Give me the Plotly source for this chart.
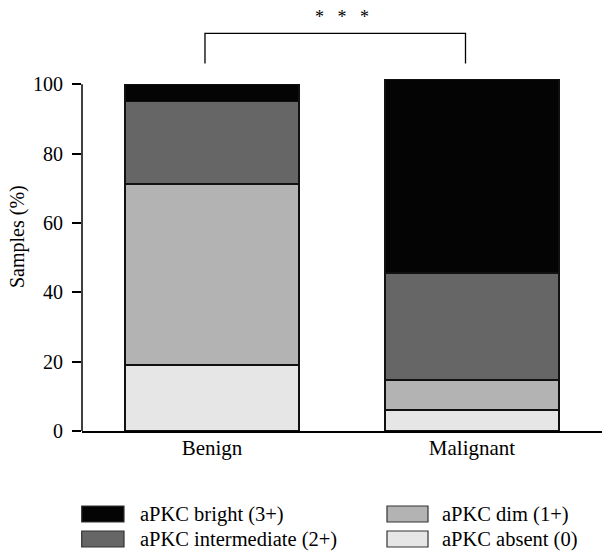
import plotly.graph_objects as go

categories = ["Benign", "Malignant"]
series_names = ["aPKC absent (0)", "aPKC dim (1+)", "aPKC intermediate (2+)", "aPKC bright (3+)"]
absent = [19.0, 6.1]
dim = [52.3, 8.6]
intermediate = [23.8, 30.8]
bright = [4.9, 55.9]
series_values = [absent, dim, intermediate, bright]
colors = ["#e6e6e6", "#b3b3b3", "#666666", "#040404"]
y_ticks = [0, 20, 40, 60, 80, 100]
significance = "*   *   *"

FONT = "Liberation Serif"
W, H = 602, 555
ML, MR, MT, MB = 82, 0, 0, 124
PW, PH = W - ML - MR, H - MT - MB

def px2paper_x(px):
    return (px - ML) / PW

def px2paper_y(py):
    return (H - MB - py) / PH

fig = go.Figure()
for name, vals, col in zip(series_names, series_values, colors):
    fig.add_trace(go.Bar(
        x=categories, y=vals, name=name, width=0.668,
        marker=dict(color=col, line=dict(color="#111111", width=1.5)),
        showlegend=False, hoverinfo="skip",
    ))

shapes = []
# y axis line from 0 to 100
shapes.append(dict(type="line", xref="paper", yref="y", x0=0, x1=0, y0=0, y1=100,
                   line=dict(color="black", width=1.5)))
# significance bracket
bl, br = 0 - 0.027, 1 - 0.025
shapes.append(dict(type="path", xref="x", yref="y",
                   path=f"M {bl},106 L {bl},114.7 L {br},114.7 L {br},106",
                   line=dict(color="black", width=1.3)))

annotations = [
    dict(text=significance, x=0.5, y=119.5, xref="x", yref="y", showarrow=False,
         font=dict(family=FONT, size=18, color="black")),
    dict(text="Samples (%)", x=px2paper_x(17), y=px2paper_y(237), xref="paper", yref="paper",
         xanchor="center", yanchor="middle",
         showarrow=False, textangle=-90, font=dict(family=FONT, size=20, color="black")),
]

# manual legend (column-major order: bright, intermediate | dim, absent)
legend_order = [3, 2, 1, 0]
cols_px = [(81.7, 124, 138), (387, 428, 440)]
rows_px = [(506, 522), (531, 547)]
for k, si in enumerate(legend_order):
    c, r = divmod(k, 2)
    x0, x1, tx = cols_px[c]
    y0, y1 = rows_px[r]
    shapes.append(dict(type="rect", xref="paper", yref="paper",
                       x0=px2paper_x(x0), x1=px2paper_x(x1),
                       y0=px2paper_y(y0), y1=px2paper_y(y1),
                       fillcolor=colors[si], line=dict(color="#333333", width=1.2)))
    annotations.append(dict(text=series_names[si], x=px2paper_x(tx), y=px2paper_y((y0 + y1) / 2),
                            xref="paper", yref="paper", xanchor="left", yanchor="middle",
                            showarrow=False, font=dict(family=FONT, size=20.5, color="black")))

fig.update_layout(
    width=W, height=H, barmode="stack",
    margin=dict(l=ML, r=MR, t=MT, b=MB),
    paper_bgcolor="white", plot_bgcolor="white",
    font=dict(family=FONT, size=20, color="black"),
    shapes=shapes, annotations=annotations,
    xaxis=dict(type="category", categoryarray=categories, range=[-0.5, 1.5],
               showline=True, linecolor="black", linewidth=1.5, ticks="",
               showgrid=False, zeroline=False, ticklabelstandoff=-3,
               tickfont=dict(family=FONT, size=21)),
    yaxis=dict(range=[0, 124.3], showline=False, ticks="outside", ticklen=9, tickwidth=1.5,
               tickcolor="black", tickvals=y_ticks, showgrid=False, zeroline=False,
               ticklabelstandoff=5, tickfont=dict(family=FONT, size=20)),
)

fig.write_html("out.html", config={"displayModeBar": False},
               post_script="document.body.style.margin='0';document.body.style.padding='0';")
